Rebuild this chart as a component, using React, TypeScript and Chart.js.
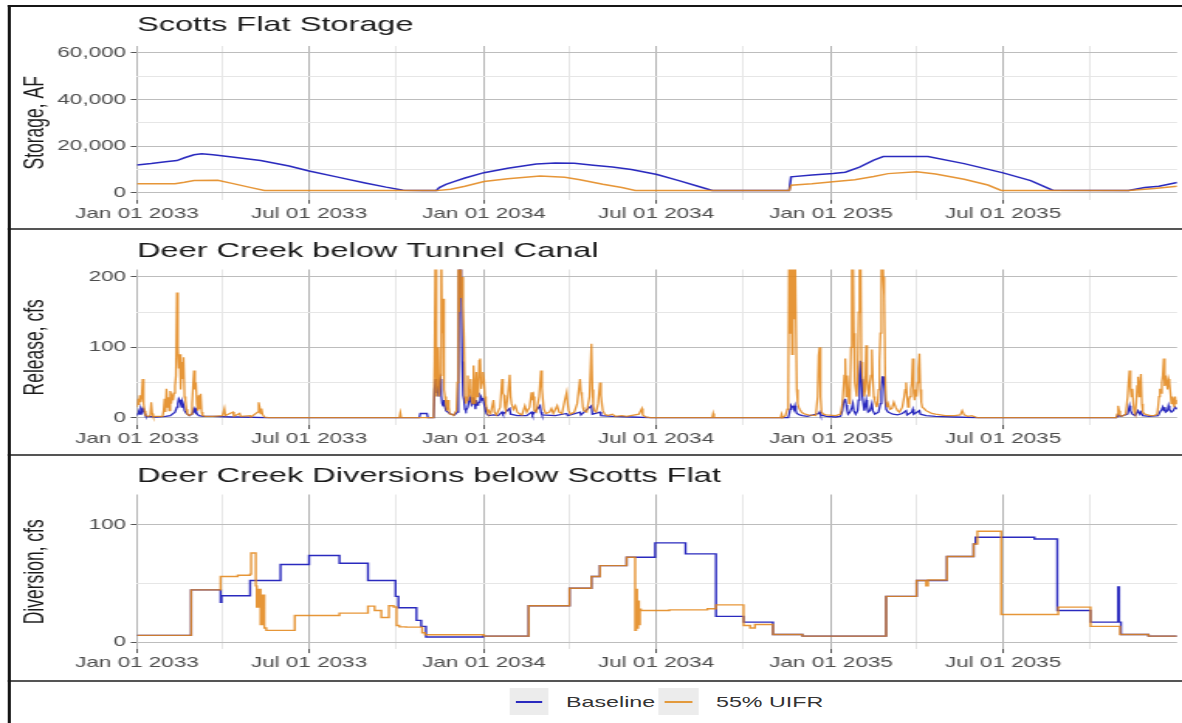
import { useEffect, useRef } from 'react';
import { Chart, registerables } from 'chart.js';

Chart.register(...registerables);

const FONT = '"Liberation Sans", Arial, Helvetica, sans-serif';
const PAGE_W = 1182;
const INNER_W = 763;
const STRETCH = PAGE_W / INNER_W;

const BLUE = 'rgba(24,24,185,0.92)';
const ORANGE = 'rgba(226,136,28,0.88)';
const BLUE_KEY = '#2a2abf';
const ORANGE_KEY = '#e39a3c';
const GRID_MAJOR = '#bdbdbd';
const GRID_MINOR = '#e6e6e6';
const TICK_TEXT = '#4d4d4d';

// Day 0 = Jan 01 2033, last day = Dec 31 2035
const DAY_MAX = 1094;
const dateTickDays = [0, 90, 181, 273, 365, 455, 546, 638, 730, 820, 911, 1003];
const dateTickLabels = ['Jan 01 2033', '', 'Jul 01 2033', '', 'Jan 01 2034', '', 'Jul 01 2034', '', 'Jan 01 2035', '', 'Jul 01 2035', ''];

// Scotts Flat storage (AF)
const storageTickValues = [0, 10000, 20000, 30000, 40000, 50000, 60000];
const storageTickLabels = ['0', '', '20,000', '', '40,000', '', '60,000'];
const storageBaselineDay = [0, 15, 30, 42, 50, 60, 68, 80, 100, 130, 160, 181, 210, 240, 262, 280, 300, 315, 318, 325, 335, 345, 365, 390, 420, 440, 460, 480, 500, 520, 547, 570, 590, 605, 686, 688, 710, 732, 745, 760, 775, 785, 832, 870, 911, 940, 963, 1043, 1060, 1075, 1094];
const storageBaselineAF = [11900, 12500, 13300, 13800, 15000, 16300, 16700, 16300, 15300, 13800, 11500, 9300, 6800, 4200, 2400, 1100, 1000, 1000, 2200, 3600, 5000, 6300, 8600, 10500, 12300, 12800, 12600, 11800, 11000, 10000, 7800, 5200, 2800, 1000, 900, 6800, 7600, 8300, 8800, 11000, 14000, 15500, 15500, 12500, 8500, 5200, 1100, 1000, 2200, 2800, 4400];
const storageUifrDay = [0, 40, 50, 60, 85, 100, 120, 134, 315, 330, 345, 365, 390, 424, 450, 466, 490, 510, 524, 686, 688, 710, 732, 755, 775, 790, 820, 840, 870, 895, 909, 1043, 1070, 1094];
const storageUifrAF = [3900, 3900, 4500, 5200, 5300, 4000, 2200, 1000, 900, 1500, 2800, 4800, 6000, 7200, 6600, 5600, 3600, 2200, 1000, 900, 3200, 3800, 4700, 5600, 7000, 8200, 9000, 8000, 5800, 3300, 1000, 900, 1800, 2800];

// Deer Creek below Tunnel Canal release (cfs)
const releaseTickValues = [0, 50, 100, 150, 200];
const releaseTickLabels = ['0', '', '100', '', '200'];
const releaseUifrDay = [0, 1, 2, 3, 4, 5, 6, 7, 8, 9, 12, 14, 15, 16, 17, 27, 28, 29, 30, 31, 32, 33, 34, 35, 36, 37, 38, 39, 40, 41, 42, 43, 44, 45, 46, 47, 48, 49, 50, 51, 52, 53, 55, 57, 58, 59, 60, 61, 62, 63, 64, 65, 66, 67, 68, 69, 72, 80, 90, 92, 93, 101, 102, 108, 109, 119, 120, 127, 128, 129, 130, 131, 132, 134, 138, 276, 277, 278, 312, 313, 314, 315, 316, 317, 318, 319, 320, 321, 322, 323, 324, 325, 326, 327, 328, 329, 331, 333, 335, 336, 337, 338, 339, 340, 341, 342, 343, 344, 345, 346, 347, 348, 349, 350, 351, 352, 353, 354, 355, 356, 357, 358, 359, 360, 361, 362, 363, 364, 365, 366, 367, 368, 369, 370, 372, 375, 376, 378, 382, 384, 385, 386, 387, 388, 390, 392, 393, 394, 396, 398, 400, 403, 405, 408, 410, 413, 415, 416, 417, 418, 420, 423, 425, 426, 427, 428, 430, 434, 436, 438, 442, 444, 447, 450, 452, 453, 454, 456, 460, 463, 466, 467, 468, 469, 470, 473, 476, 478, 479, 480, 481, 483, 485, 487, 488, 489, 490, 492, 495, 500, 503, 510, 515, 528, 531, 532, 535, 540, 605, 606, 607, 677, 678, 679, 682, 684, 685, 686, 687, 688, 689, 690, 691, 692, 693, 694, 695, 696, 697, 699, 701, 703, 706, 714, 716, 717, 718, 719, 720, 722, 725, 735, 740, 742, 743, 744, 745, 746, 747, 748, 749, 750, 751, 752, 753, 754, 755, 756, 757, 758, 759, 760, 761, 762, 763, 764, 765, 766, 767, 768, 769, 770, 771, 772, 773, 774, 775, 776, 777, 778, 779, 780, 781, 782, 783, 784, 785, 786, 787, 788, 789, 790, 792, 794, 796, 798, 800, 802, 805, 807, 808, 809, 810, 811, 812, 813, 814, 815, 816, 817, 818, 819, 820, 821, 822, 823, 824, 825, 826, 828, 830, 833, 836, 840, 845, 850, 860, 866, 868, 869, 870, 874, 878, 882, 884, 1030, 1031, 1032, 1033, 1034, 1036, 1040, 1042, 1043, 1044, 1045, 1046, 1047, 1048, 1049, 1050, 1051, 1052, 1053, 1054, 1055, 1056, 1057, 1058, 1060, 1063, 1066, 1070, 1073, 1074, 1075, 1076, 1077, 1078, 1079, 1080, 1081, 1082, 1083, 1084, 1085, 1086, 1087, 1088, 1089, 1090, 1091, 1092, 1093, 1094];
const releaseUifrCfs = [15, 27, 18, 32, 22, 30, 55, 20, 10, 3, 2, 3, 22, 6, 2, 2, 10, 27, 8, 41, 15, 29, 10, 38, 20, 30, 25, 35, 45, 60, 178, 100, 70, 90, 40, 79, 55, 86, 30, 25, 12, 5, 3, 5, 20, 45, 67, 40, 50, 20, 10, 32, 12, 34, 8, 3, 2, 2, 3, 13, 3, 8, 2, 6, 2, 3, 1, 8, 22, 15, 6, 13, 5, 1, 0, 0, 7, 0, 0, 81, 260, 30, 50, 100, 30, 60, 260, 120, 169, 40, 30, 20, 10, 25, 15, 5, 5, 3, 8, 10, 50, 260, 150, 260, 170, 200, 159, 112, 30, 20, 25, 60, 30, 40, 55, 25, 20, 74, 40, 20, 65, 30, 35, 81, 84, 41, 50, 65, 55, 30, 20, 12, 8, 10, 6, 25, 8, 4, 15, 55, 35, 32, 15, 10, 30, 61, 30, 20, 12, 17, 8, 5, 4, 17, 8, 15, 36, 25, 30, 10, 8, 30, 67, 41, 25, 12, 6, 8, 13, 6, 17, 8, 6, 25, 36, 20, 10, 5, 8, 20, 55, 36, 30, 15, 10, 8, 30, 105, 40, 17, 10, 8, 20, 50, 32, 20, 10, 5, 3, 5, 2, 3, 2, 5, 13, 4, 1, 0, 0, 6, 0, 0, 5, 0, 3, 12, 30, 260, 120, 260, 90, 260, 140, 260, 260, 40, 20, 15, 12, 8, 6, 5, 4, 3, 30, 88, 100, 30, 8, 5, 4, 3, 5, 20, 40, 60, 84, 30, 60, 40, 20, 30, 100, 260, 260, 120, 50, 40, 30, 60, 150, 260, 260, 79, 60, 50, 30, 40, 103, 55, 40, 30, 50, 60, 97, 55, 30, 25, 20, 15, 20, 40, 80, 120, 260, 260, 200, 173, 60, 22, 15, 20, 12, 13, 22, 15, 10, 8, 15, 30, 40, 50, 30, 15, 25, 30, 40, 50, 84, 35, 25, 40, 30, 50, 70, 91, 40, 22, 15, 13, 10, 8, 6, 5, 4, 3, 3, 4, 10, 10, 4, 2, 3, 1, 0, 0, 5, 17, 10, 3, 2, 5, 30, 50, 67, 41, 30, 41, 20, 8, 5, 20, 45, 58, 30, 45, 62, 20, 8, 5, 4, 3, 3, 5, 15, 30, 41, 35, 50, 60, 84, 45, 60, 50, 40, 55, 50, 35, 20, 30, 25, 15, 30, 20, 25];
const releaseBaselineDay = [0, 1, 2, 3, 4, 5, 6, 7, 8, 9, 10, 20, 30, 35, 40, 42, 43, 44, 45, 46, 47, 48, 49, 50, 52, 55, 58, 60, 61, 62, 63, 65, 70, 80, 100, 110, 135, 297, 298, 305, 306, 312, 313, 314, 315, 316, 317, 318, 319, 320, 321, 322, 323, 324, 325, 327, 330, 334, 337, 338, 339, 340, 341, 342, 343, 344, 345, 346, 348, 350, 351, 352, 353, 354, 355, 356, 357, 358, 359, 360, 361, 362, 363, 364, 365, 366, 367, 368, 370, 375, 380, 384, 385, 392, 393, 400, 410, 415, 416, 424, 425, 426, 440, 452, 453, 466, 467, 478, 479, 487, 488, 500, 520, 540, 685, 686, 687, 688, 689, 690, 691, 692, 693, 694, 697, 700, 705, 717, 718, 719, 725, 735, 740, 742, 743, 744, 745, 746, 747, 748, 750, 752, 753, 754, 756, 758, 759, 760, 761, 762, 763, 764, 765, 767, 768, 769, 771, 773, 774, 776, 780, 782, 783, 784, 785, 786, 787, 788, 790, 795, 800, 805, 809, 810, 815, 816, 817, 823, 824, 830, 840, 860, 884, 1030, 1031, 1032, 1035, 1042, 1044, 1045, 1047, 1050, 1053, 1055, 1056, 1058, 1065, 1074, 1076, 1078, 1079, 1080, 1081, 1082, 1084, 1085, 1086, 1088, 1090, 1092, 1094];
const releaseBaselineCfs = [3, 6, 8, 5, 12, 8, 13, 10, 6, 3, 2, 1, 2, 3, 8, 15, 20, 27, 25, 20, 15, 22, 18, 10, 6, 3, 5, 13, 10, 12, 6, 3, 2, 2, 1, 1, 0, 0, 6, 6, 0, 0, 40, 55, 35, 45, 30, 50, 55, 32, 20, 17, 25, 15, 10, 8, 5, 4, 8, 30, 260, 260, 200, 80, 32, 25, 12, 10, 15, 29, 25, 18, 20, 29, 22, 12, 25, 18, 20, 22, 32, 30, 25, 28, 20, 15, 8, 5, 3, 4, 3, 8, 5, 13, 5, 3, 3, 8, 4, 17, 8, 4, 3, 6, 3, 8, 4, 17, 5, 8, 3, 2, 1, 0, 0, 5, 12, 17, 15, 17, 12, 17, 10, 6, 4, 3, 2, 6, 8, 4, 2, 1, 2, 10, 20, 25, 27, 18, 10, 5, 8, 15, 20, 10, 5, 10, 25, 60, 81, 55, 30, 20, 10, 25, 15, 8, 10, 20, 10, 5, 8, 20, 40, 58, 58, 45, 25, 12, 8, 5, 4, 6, 10, 4, 8, 12, 5, 10, 5, 3, 2, 1, 0, 0, 2, 4, 2, 5, 17, 10, 5, 3, 10, 5, 8, 3, 2, 3, 8, 12, 15, 10, 15, 8, 10, 17, 12, 8, 10, 15, 12];

// Deer Creek diversions below Scotts Flat (cfs), each value holds until the next day listed
const diversionTickValues = [0, 50, 100];
const diversionTickLabels = ['0', '', '100'];
const diversionBaselineDay = [0, 57, 88, 89, 119, 151, 181, 213, 243, 272, 275, 294, 299, 304, 364, 412, 455, 478, 487, 515, 545, 577, 609, 638, 669, 700, 788, 820, 852, 880, 882, 944, 968, 1003, 1032, 1033, 1035, 1064, 1094];
const diversionBaselineCfs = [5.7, 44.6, 34, 39.5, 52.6, 66.2, 73.9, 67.3, 52.6, 39, 29.3, 18.5, 13.4, 4.3, 5.1, 31, 46, 56, 65.3, 72.4, 84.7, 75.3, 21.9, 17, 6.5, 5.1, 39, 52.6, 73, 83.8, 89.5, 88, 27, 17, 47, 17, 6.5, 5.1, 5.1];
const diversionUifrDay = [0, 57, 88, 106, 119, 120, 125, 126, 128, 130, 132, 134, 136, 166, 213, 243, 250, 257, 265, 270, 273, 276, 283, 300, 303, 365, 412, 455, 478, 487, 515, 524, 525, 526, 527, 528, 529, 530, 560, 600, 609, 638, 645, 650, 669, 700, 788, 820, 830, 832, 852, 880, 884, 909, 969, 1003, 1034, 1064, 1094];
const diversionUifrCfs = [5.7, 44.6, 56, 57, 58, 76, 48, 30, 45, 15, 40, 12, 10, 22.7, 24.7, 30.7, 27, 21, 31, 30, 14.2, 13, 12.8, 8, 6.3, 5.1, 31, 46, 56, 65.3, 72.4, 10, 45, 12, 35, 15, 28, 27, 27.5, 28.5, 31.8, 14.2, 12, 15, 6.5, 5.1, 39, 52.6, 48, 53, 73, 83.8, 94.6, 23.6, 29.8, 13.4, 6.5, 5.1, 5.1];

const toPoints = (days: number[], values: number[]) => days.map((d, i) => ({ x: d, y: values[i] }));

type PanelSpec = {
  top: number;
  height: number;
  title: string;
  titlePad: { top: number; bottom: number };
  yTitle: string;
  yMin: number;
  yMax: number;
  yTicks: number[];
  yLabels: string[];
  xAxisHeight: number;
  stepped: boolean;
  lineWidth: number;
  baseline: { x: number; y: number }[];
  uifr: { x: number; y: number }[];
};

const panels: PanelSpec[] = [
  {
    top: 7, height: 221, title: 'Scotts Flat Storage', titlePad: { top: 5.7, bottom: 8.1 },
    yTitle: 'Storage, AF', yMin: -3000, yMax: 63000, yTicks: storageTickValues, yLabels: storageTickLabels,
    xAxisHeight: 28.3, stepped: false, lineWidth: 1.5,
    baseline: toPoints(storageBaselineDay, storageBaselineAF), uifr: toPoints(storageUifrDay, storageUifrAF),
  },
  {
    top: 230, height: 223, title: 'Deer Creek below Tunnel Canal', titlePad: { top: 9.1, bottom: 5.2 },
    yTitle: 'Release, cfs', yMin: -10.5, yMax: 210.5, yTicks: releaseTickValues, yLabels: releaseTickLabels,
    xAxisHeight: 27.9, stepped: false, lineWidth: 1.3,
    baseline: toPoints(releaseBaselineDay, releaseBaselineCfs), uifr: toPoints(releaseUifrDay, releaseUifrCfs),
  },
  {
    top: 456, height: 224, title: 'Deer Creek Diversions below Scotts Flat', titlePad: { top: 8.1, bottom: 5.2 },
    yTitle: 'Diversion, cfs', yMin: -6, yMax: 126, yTicks: diversionTickValues, yLabels: diversionTickLabels,
    xAxisHeight: 30.9, stepped: true, lineWidth: 1.4,
    baseline: toPoints(diversionBaselineDay, diversionBaselineCfs), uifr: toPoints(diversionUifrDay, diversionUifrCfs),
  },
];

function buildConfig(p: PanelSpec): any {
  return {
    type: 'line',
    data: {
      datasets: [
        {
          label: 'Baseline', data: p.baseline, borderColor: BLUE, borderWidth: p.lineWidth,
          pointRadius: 0, tension: 0, stepped: p.stepped ? 'before' : false, clip: 0, order: 2,
        },
        {
          label: '55% UIFR', data: p.uifr, borderColor: ORANGE, borderWidth: p.lineWidth,
          pointRadius: 0, tension: 0, stepped: p.stepped ? 'before' : false, clip: 0, order: 1,
        },
      ],
    },
    options: {
      animation: false,
      responsive: false,
      devicePixelRatio: 1,
      events: [],
      layout: { padding: { left: 0, right: 3.2, top: 0, bottom: 0 } },
      plugins: {
        legend: { display: false },
        tooltip: { enabled: false },
        title: {
          display: true, text: p.title, align: 'start', fullSize: false, color: '#1a1a1a',
          font: { family: FONT, size: 21, weight: 'normal', lineHeight: 1.2 },
          padding: p.titlePad,
        },
      },
      scales: {
        x: {
          type: 'linear', min: 0, max: DAY_MAX,
          afterBuildTicks: (s: any) => { s.ticks = dateTickDays.map((v) => ({ value: v })); },
          afterFit: (s: any) => { s.height = p.xAxisHeight; },
          ticks: {
            autoSkip: false, maxRotation: 0, minRotation: 0, padding: 1.5, color: TICK_TEXT,
            font: { family: FONT, size: 14.5 },
            callback: (_v: any, i: number) => dateTickLabels[i],
          },
          grid: {
            drawTicks: true, tickLength: 4, lineWidth: 1,
            color: (c: any) => (dateTickLabels[c.index] ? '#b3b3b3' : GRID_MINOR),
            tickColor: (c: any) => (dateTickLabels[c.index] ? '#555555' : 'rgba(0,0,0,0)'),
          },
          border: { display: false },
        },
        y: {
          type: 'linear', min: p.yMin, max: p.yMax,
          afterBuildTicks: (s: any) => { s.ticks = p.yTicks.map((v) => ({ value: v })); },
          afterFit: (s: any) => { s.width = 88.4; },
          title: {
            display: true, text: p.yTitle, color: '#1a1a1a',
            font: { family: FONT, size: 17.5, lineHeight: 1.2 },
            padding: { top: 12.5, bottom: 0 },
          },
          ticks: {
            padding: 3, color: TICK_TEXT, font: { family: FONT, size: 14.5 },
            callback: (_v: any, i: number) => p.yLabels[i],
          },
          grid: {
            drawTicks: true, tickLength: 4, lineWidth: 1,
            color: (c: any) => (p.yLabels[c.index] ? GRID_MAJOR : GRID_MINOR),
            tickColor: (c: any) => (p.yLabels[c.index] ? '#555555' : 'rgba(0,0,0,0)'),
          },
          border: { display: false },
        },
      },
    },
  };
}

function Panel({ spec }: { spec: PanelSpec }) {
  const ref = useRef<HTMLCanvasElement | null>(null);
  useEffect(() => {
    if (!ref.current) return;
    const chart = new Chart(ref.current, buildConfig(spec));
    return () => chart.destroy();
  }, [spec]);
  return (
    <canvas
      ref={ref}
      width={INNER_W}
      height={spec.height}
      style={{ position: 'absolute', left: 0, top: spec.top, width: INNER_W, height: spec.height }}
    />
  );
}

const legendItems = [
  { label: 'Baseline', color: BLUE_KEY, keyLeft: 329, keyWidth: 25, textLeft: 365.4 },
  { label: '55% UIFR', color: ORANGE_KEY, keyLeft: 424.5, keyWidth: 26, textLeft: 462.2 },
];

export default function App() {
  useEffect(() => {
    document.body.style.margin = '0';
    document.body.style.overflow = 'hidden';
  }, []);
  const rule = (top: number, height: number, color: string) => (
    <div style={{ position: 'absolute', left: 5.2, right: 0, top, height, background: color }} />
  );
  return (
    <div
      style={{
        position: 'absolute', left: 0, top: 0, width: INNER_W, height: 723, overflow: 'hidden',
        background: '#ffffff', transform: `scaleX(${STRETCH})`, transformOrigin: '0 0', fontFamily: FONT,
      }}
    >
      {panels.map((p) => (
        <Panel key={p.title} spec={p} />
      ))}
      {rule(5, 2, '#161616')}
      {rule(228, 2, '#555555')}
      {rule(453.5, 2, '#555555')}
      {rule(679.5, 2, '#555555')}
      <div style={{ position: 'absolute', left: 5.2, top: 5, width: 2, height: 718, background: '#161616' }} />
      {legendItems.map((it) => (
        <div key={it.label}>
          <div style={{ position: 'absolute', left: it.keyLeft, top: 688, width: it.keyWidth, height: 27, background: '#ececec' }}>
            <div style={{ position: 'absolute', left: 4, top: 12.5, width: it.keyWidth - 8, height: 2, backgroundColor: it.color }} />
          </div>
          <div style={{ position: 'absolute', left: it.textLeft, top: 688, height: 27, lineHeight: '27px', fontSize: 15, color: '#333333', whiteSpace: 'nowrap' }}>
            {it.label}
          </div>
        </div>
      ))}
    </div>
  );
}
